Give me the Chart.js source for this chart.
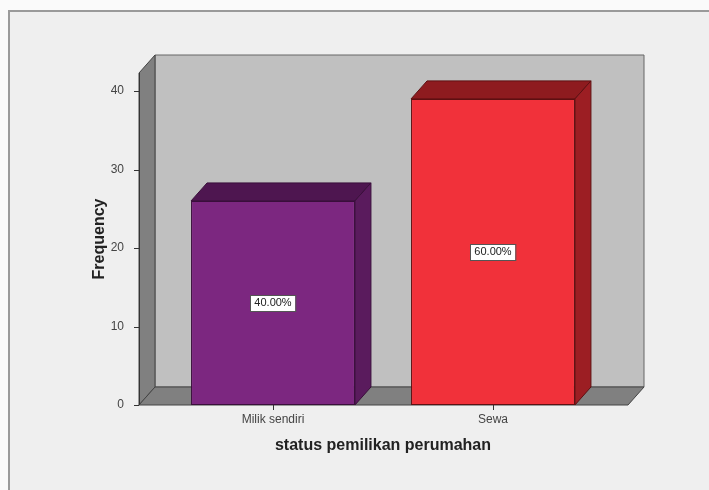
<!DOCTYPE html>
<html>
<head>
<meta charset="utf-8">
<script src="https://cdn.jsdelivr.net/npm/chart.js@4.4.1/dist/chart.umd.min.js"></script>
<style>
  html, body { margin: 0; padding: 0; background: #fafafa; }
  canvas { display: block; }
</style>
</head>
<body>
<canvas id="freqChart" width="709" height="490"></canvas>
<script>
const categories = ["Milik sendiri", "Sewa"];
const frequencies = [26, 39];
const yTicks = [0, 10, 20, 30, 40];
const frontColors = ["#7c2780", "#f1313a"];
const sideColors = ["#5a1b5d", "#9c1e23"];
const topColors = ["#4e1650", "#8e1b1f"];
const edgeColors = ["#3a0f3b", "#5e1012"];

const FONT = "'Liberation Sans', Arial, sans-serif";
const DX = 16, DY = -18; // depth of the 3d box
const BOX_LEFT = 139, BOX_RIGHT = 628;

const total = frequencies.reduce((a, b) => a + b, 0);

function poly(ctx, pts, fill, stroke) {
  ctx.beginPath();
  ctx.moveTo(pts[0][0], pts[0][1]);
  for (let i = 1; i < pts.length; i++) ctx.lineTo(pts[i][0], pts[i][1]);
  ctx.closePath();
  ctx.fillStyle = fill;
  ctx.fill();
  if (stroke) {
    ctx.strokeStyle = stroke;
    ctx.lineWidth = 1;
    ctx.stroke();
  }
}

const box3d = {
  id: "box3d",
  beforeDraw(chart) {
    const ctx = chart.ctx;
    const yScale = chart.scales.y;
    const y0 = yScale.getPixelForValue(0);
    const yTop = yScale.top;
    ctx.save();
    // page + frame
    ctx.fillStyle = "#fafafa";
    ctx.fillRect(0, 0, chart.width, chart.height);
    ctx.fillStyle = "#efefef";
    ctx.fillRect(9, 11, chart.width - 9, chart.height - 11);
    ctx.strokeStyle = "#9a9a9a";
    ctx.lineWidth = 2;
    ctx.beginPath();
    ctx.moveTo(9, chart.height);
    ctx.lineTo(9, 11);
    ctx.lineTo(chart.width, 11);
    ctx.stroke();

    // back wall
    poly(ctx, [[BOX_LEFT + DX, yTop + DY], [BOX_RIGHT + DX, yTop + DY],
               [BOX_RIGHT + DX, y0 + DY], [BOX_LEFT + DX, y0 + DY]], "#c0c0c0", "#666");
    // left wall
    poly(ctx, [[BOX_LEFT, yTop], [BOX_LEFT + DX, yTop + DY],
               [BOX_LEFT + DX, y0 + DY], [BOX_LEFT, y0]], "#808080", "#444");
    // floor
    poly(ctx, [[BOX_LEFT, y0], [BOX_LEFT + DX, y0 + DY],
               [BOX_RIGHT + DX, y0 + DY], [BOX_RIGHT, y0]], "#808080", "#444");

    // y tick marks on the wall edge
    ctx.strokeStyle = "#333";
    ctx.lineWidth = 1;
    ctx.beginPath();
    yTicks.forEach(v => {
      const py = Math.round(yScale.getPixelForValue(v)) + 0.5;
      ctx.moveTo(BOX_LEFT - 5, py);
      ctx.lineTo(BOX_LEFT, py);
    });
    ctx.moveTo(BOX_LEFT + 0.5, yTop);
    ctx.lineTo(BOX_LEFT + 0.5, y0);
    ctx.stroke();
    ctx.restore();
  },
  afterDatasetsDraw(chart) {
    const ctx = chart.ctx;
    const meta = chart.getDatasetMeta(0);
    ctx.save();
    meta.data.forEach((bar, i) => {
      const x1 = bar.x - bar.width / 2;
      const x2 = bar.x + bar.width / 2;
      const top = bar.y, base = bar.base;
      poly(ctx, [[x1, top], [x1 + DX, top + DY], [x2 + DX, top + DY], [x2, top]], topColors[i], edgeColors[i]);
      poly(ctx, [[x2, top], [x2 + DX, top + DY], [x2 + DX, base + DY], [x2, base]], sideColors[i], edgeColors[i]);

      // percentage label
      const label = (frequencies[i] / total * 100).toFixed(2) + "%";
      ctx.font = "11px " + FONT;
      const w = ctx.measureText(label).width + 8;
      const h = 16;
      const cy = (top + base) / 2;
      ctx.fillStyle = "#ffffff";
      ctx.fillRect(Math.round(bar.x - w / 2), Math.round(cy - h / 2), w, h);
      ctx.strokeStyle = "#555";
      ctx.strokeRect(Math.round(bar.x - w / 2) + 0.5, Math.round(cy - h / 2) + 0.5, w, h);
      ctx.fillStyle = "#222";
      ctx.textAlign = "center";
      ctx.textBaseline = "middle";
      ctx.fillText(label, bar.x, cy + 0.5);
    });
    ctx.restore();
  }
};

new Chart(document.getElementById("freqChart"), {
  type: "bar",
  data: {
    labels: categories,
    datasets: [{
      label: "Frequency",
      data: frequencies,
      backgroundColor: frontColors,
      borderColor: edgeColors,
      borderWidth: 1,
      borderSkipped: false,
      barPercentage: 1,
      categoryPercentage: 0.745
    }]
  },
  options: {
    responsive: false,
    animation: false,
    layout: { padding: { top: 73, right: 106, bottom: 0, left: 0 } },
    plugins: {
      legend: { display: false },
      tooltip: { enabled: false }
    },
    scales: {
      x: {
        grid: { display: true, drawOnChartArea: false, drawTicks: true, tickLength: 5, offset: false, color: "#333" },
        border: { display: false },
        ticks: { color: "#444", font: { family: FONT, size: 12 }, padding: 2, maxRotation: 0 },
        title: { display: true, text: "status pemilikan perumahan", color: "#222",
                 font: { family: FONT, size: 16, weight: "bold" }, padding: { top: 0, bottom: 35 } },
        afterFit(scale) { scale.height = 85; }
      },
      y: {
        min: 0,
        max: 42.3,
        grid: { display: false },
        border: { display: false },
        ticks: { color: "#444", font: { family: FONT, size: 12 }, padding: 31 },
        afterBuildTicks(scale) { scale.ticks = yTicks.map(v => ({ value: v })); },
        title: { display: true, text: "Frequency", color: "#222",
                 font: { family: FONT, size: 16, weight: "bold" }, padding: { top: 90, bottom: 0 } },
        afterFit(scale) { scale.width = 163; }
      }
    }
  },
  plugins: [box3d]
});
</script>
</body>
</html>
